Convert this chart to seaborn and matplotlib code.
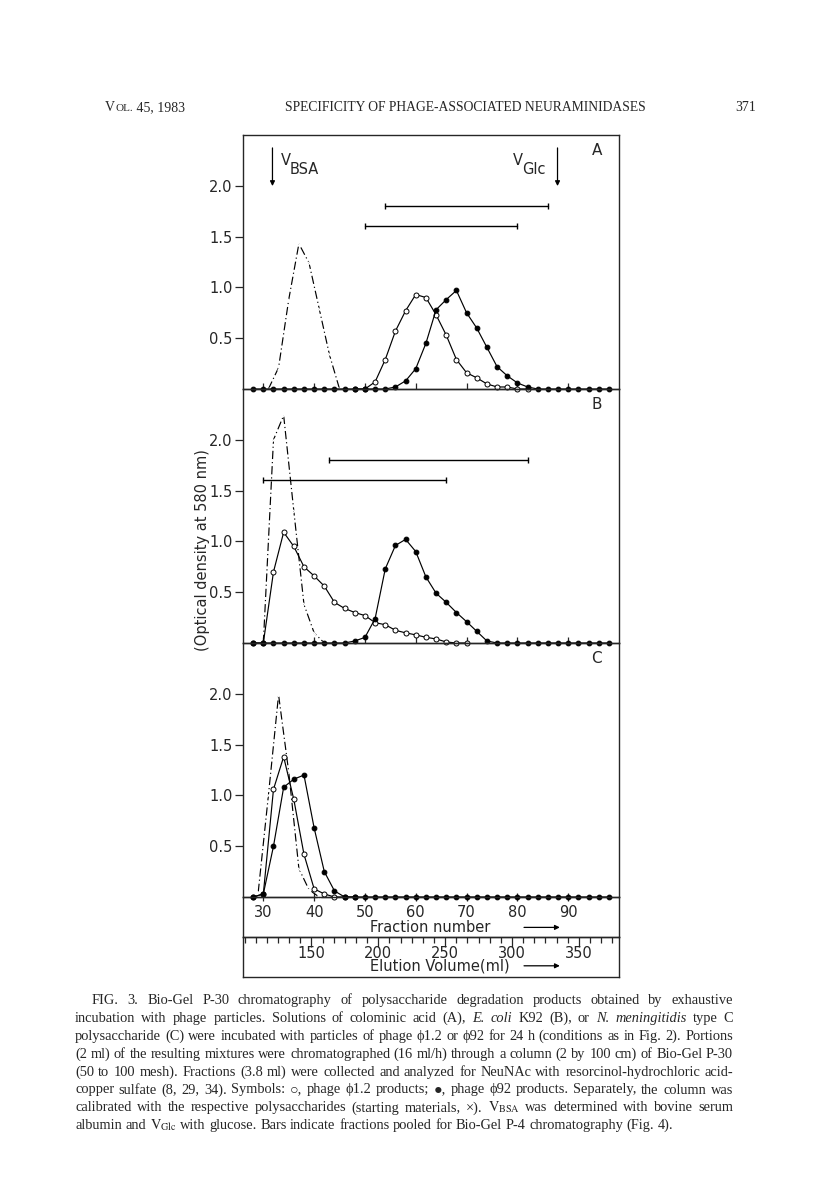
import matplotlib
matplotlib.use("Agg")
import matplotlib.pyplot as plt
import seaborn as sns
from matplotlib.transforms import IdentityTransform
from matplotlib.ticker import MultipleLocator

# panel A: colominic acid  (x = starting material, o = phage phi1.2, filled = phage phi92)
a_cross_frac = [31, 33, 35, 37, 39, 41, 43, 45]
a_cross_od = [0.0, 0.21, 0.88, 1.43, 1.24, 0.79, 0.34, 0.0]
a_open_frac = list(range(48, 84, 2))
a_open_od = [0, 0, 0.07, 0.29, 0.57, 0.77, 0.93, 0.90, 0.73, 0.53, 0.29, 0.16,
             0.11, 0.05, 0.02, 0.02, 0, 0]
a_fill_frac = list(range(28, 100, 2))
a_fill_od = [0] * 14 + [0.02, 0.08, 0.20, 0.45, 0.78, 0.88, 0.97, 0.75, 0.60, 0.41,
                        0.22, 0.13, 0.06, 0.02] + [0] * 8

# panel B: E. coli K92
b_cross_frac = [30, 32, 34, 36, 38, 40, 42]
b_cross_od = [0.0, 2.0, 2.24, 1.30, 0.38, 0.10, 0.0]
b_open_frac = list(range(28, 72, 2))
b_open_od = [0, 0, 0.70, 1.09, 0.95, 0.75, 0.66, 0.56, 0.40, 0.34, 0.30, 0.27, 0.20,
             0.18, 0.125, 0.10, 0.08, 0.056, 0.04, 0.01, 0, 0]
b_fill_frac = list(range(28, 100, 2))
b_fill_od = [0] * 10 + [0.02, 0.055, 0.24, 0.73, 0.96, 1.02, 0.90, 0.65, 0.49, 0.40,
                        0.30, 0.21, 0.115, 0.02] + [0] * 12

# panel C: N. meningitidis type C
c_cross_frac = [29, 31, 33, 35, 37, 39, 41]
c_cross_od = [0.05, 1.0, 1.99, 1.23, 0.28, 0.07, 0.0]
c_open_frac = list(range(28, 50, 2))
c_open_od = [0, 0.03, 1.06, 1.38, 0.96, 0.42, 0.08, 0.03, 0, 0, 0]
c_fill_frac = list(range(28, 100, 2))
c_fill_od = [0, 0.03, 0.50, 1.08, 1.16, 1.20, 0.68, 0.25, 0.06] + [0] * 27

# pooled fractions (start, end, height)
a_bars = [(54, 86, 1.8), (50, 80, 1.6)]
b_bars = [(43, 82, 1.8), (30, 66, 1.6)]

frac_ticks = [30, 40, 50, 60, 70, 80, 90]
ml_ticks = [150, 200, 250, 300, 350]
ml_per_fraction = 3.8
x_range = (26, 100)

sns.set_style("ticks")
plt.rcParams['font.family'] = ['DejaVu Sans']
plt.rcParams['mathtext.fontset'] = 'stix'
plt.rcParams['axes.linewidth'] = 1.0

W, H = 816, 1199
fig = plt.figure(figsize=(W / 100, H / 100), dpi=100)


def box(top, bottom, left=243, right=619):
    ax = fig.add_axes([left / W, 1 - bottom / H, (right - left) / W, (bottom - top) / H])
    ax.patch.set_visible(False)
    return ax


ax_fr = box(897, 937)
ax_ml = box(937, 977)
ax_a = box(135, 389)
ax_b = box(389, 643)
ax_c = box(643, 897)

ink = 'black'


def draw_panel(ax, cf, cv, of, ov, ff, fv, letter):
    sns.lineplot(x=cf, y=cv, ax=ax, color=ink, lw=0.85, linestyle=(0, (7, 2.5, 1, 2.5)),
                 marker='x', markersize=2.6, mew=0.8, clip_on=False)
    sns.lineplot(x=of, y=ov, ax=ax, color=ink, lw=0.85, marker='o', markersize=3.6,
                 markerfacecolor='white', markeredgecolor=ink, mew=0.7, clip_on=False)
    sns.lineplot(x=ff, y=fv, ax=ax, color=ink, lw=0.85, marker='o', markersize=3.4,
                 markerfacecolor=ink, markeredgecolor=ink, clip_on=False)
    ax.set_xlim(*x_range)
    ax.set_ylim(0, 2.5)
    ax.set_yticks([0.5, 1.0, 1.5, 2.0])
    ax.set_yticklabels(['0.5', '1.0', '1.5', '2.0'])
    ax.set_xticks(frac_ticks)
    ax.tick_params(axis='y', direction='out', length=5.5, width=0.9, labelsize=10.5, pad=2)
    ax.tick_params(axis='x', direction='in', length=4, width=0.9, labelbottom=False)
    ax.set_xlabel('')
    ax.set_ylabel('')
    ax.text(95.6, 2.42, letter, fontsize=11, ha='center', va='top')


draw_panel(ax_a, a_cross_frac, a_cross_od, a_open_frac, a_open_od, a_fill_frac, a_fill_od, 'A')
draw_panel(ax_b, b_cross_frac, b_cross_od, b_open_frac, b_open_od, b_fill_frac, b_fill_od, 'B')
draw_panel(ax_c, c_cross_frac, c_cross_od, c_open_frac, c_open_od, c_fill_frac, c_fill_od, 'C')

for ax, bars in [(ax_a, a_bars), (ax_b, b_bars)]:
    for x0, x1, h in bars:
        ax.plot([x0, x1], [h, h], color=ink, lw=1.0, marker='|', markersize=5, mew=1.0)

# elution markers
ax_a.annotate('', xy=(31.8, 1.97), xytext=(31.8, 2.40),
              arrowprops=dict(arrowstyle='-|>', color=ink, lw=0.9, mutation_scale=7))
ax_a.annotate('', xy=(87.9, 1.97), xytext=(87.9, 2.40),
              arrowprops=dict(arrowstyle='-|>', color=ink, lw=0.9, mutation_scale=7))
ax_a.text(33.4, 2.25, 'V', fontsize=10.5, ha='left', va='center')
ax_a.text(35.2, 2.16, 'BSA', fontsize=10.5, ha='left', va='center')
ax_a.text(79.2, 2.25, 'V', fontsize=10.5, ha='left', va='center')
ax_a.text(81.0, 2.16, 'Glc', fontsize=10.5, ha='left', va='center')

# fraction-number scale
ax_c.tick_params(axis='x', direction='inout', length=6, labelbottom=True,
                 labelsize=10.5, pad=3)
ax_c.set_xticklabels([str(v) for v in frac_ticks])
ax_fr.set_xlim(*x_range)
ax_fr.set_xticks([])
ax_fr.set_yticks([])
ax_fr.text(0.338, 0.24, 'Fraction number', transform=ax_fr.transAxes,
           fontsize=10.5, ha='left', va='center')
ax_fr.annotate('', xy=(0.85, 0.24), xytext=(0.74, 0.24), xycoords='axes fraction',
               arrowprops=dict(arrowstyle='-|>', color=ink, lw=0.9, mutation_scale=7))

# elution-volume scale
ax_ml.set_xlim(x_range[0] * ml_per_fraction, x_range[1] * ml_per_fraction)
ax_ml.set_yticks([])
ax_ml.xaxis.set_ticks_position('top')
ax_ml.set_xticks(ml_ticks)
ax_ml.xaxis.set_minor_locator(MultipleLocator(50 / 6))
ax_ml.tick_params(axis='x', which='major', direction='in', length=7, width=0.9, labeltop=False)
ax_ml.tick_params(axis='x', which='minor', direction='in', length=4, width=0.9)
for v in ml_ticks:
    ax_ml.text(v, 0.6, str(v), transform=ax_ml.get_xaxis_transform(),
               fontsize=10.5, ha='center', va='center')
ax_ml.text(0.338, 0.28, 'Elution Volume(ml)', transform=ax_ml.transAxes,
           fontsize=10.5, ha='left', va='center')
ax_ml.annotate('', xy=(0.85, 0.28), xytext=(0.74, 0.28), xycoords='axes fraction',
               arrowprops=dict(arrowstyle='-|>', color=ink, lw=0.9, mutation_scale=7))

fig.text(203 / W, 1 - 550 / H, '(Optical density at 580 nm)', rotation=90,
         fontsize=10.5, ha='center', va='center')

# page header and legend text
serif = ['Liberation Serif', 'DejaVu Serif', 'DejaVu Sans']
rend = fig.canvas.get_renderer()


def put_run(pieces, x, y):
    for txt, size in pieces:
        t = fig.text(x, H - y, txt, transform=IdentityTransform(), fontsize=size,
                     family=serif, va='baseline')
        x += t.get_window_extent(rend).width


def put_line(line, x0, y, x1=None, size=10.4):
    items = []
    for tok in line.split(' '):
        style = 'normal'
        if tok.startswith('*') and tok.endswith('*'):
            tok, style = tok[1:-1], 'italic'
        t = fig.text(x0, H - y, tok, transform=IdentityTransform(), fontsize=size,
                     family=serif, style=style, va='baseline')
        items.append((t, t.get_window_extent(rend).width))
    gap = size * 100 / 72 * 0.25
    if x1 is not None and len(items) > 1:
        gap = (x1 - x0 - sum(w for _, w in items)) / (len(items) - 1)
    x = x0
    for t, w in items:
        t.set_x(x)
        x += w + gap


put_run([('V', 10), ('OL.', 8), (' 45, 1983', 10)], 105, 111)
put_run([('SPECIFICITY OF PHAGE-ASSOCIATED NEURAMINIDASES', 9.8)], 285, 111)
put_run([('371', 10)], 735, 111)

caption = [
    "FIG. 3. Bio-Gel P-30 chromatography of polysaccharide degradation products obtained by exhaustive",
    "incubation with phage particles. Solutions of colominic acid (A), *E.* *coli* K92 (B), or *N.* *meningitidis* type C",
    "polysaccharide (C) were incubated with particles of phage ϕ1.2 or ϕ92 for 24 h (conditions as in Fig. 2). Portions",
    "(2 ml) of the resulting mixtures were chromatographed (16 ml/h) through a column (2 by 100 cm) of Bio-Gel P-30",
    "(50 to 100 mesh). Fractions (3.8 ml) were collected and analyzed for NeuNAc with resorcinol-hydrochloric acid-",
    "copper sulfate (8, 29, 34). Symbols: ○, phage ϕ1.2 products; ●, phage ϕ92 products. Separately, the column was",
    r"calibrated with the respective polysaccharides (starting materials, ×). $\mathrm{V}_{\mathrm{BSA}}$ was determined with bovine serum",
    r"albumin and $\mathrm{V}_{\mathrm{Glc}}$ with glucose. Bars indicate fractions pooled for Bio-Gel P-4 chromatography (Fig. 4).",
]
for i, line in enumerate(caption):
    y = 1004 + 17.9 * i
    x0 = 92 if i == 0 else 75
    put_line(line, x0, y, None if i == len(caption) - 1 else 733)

fig.savefig('out.png', dpi=100)
